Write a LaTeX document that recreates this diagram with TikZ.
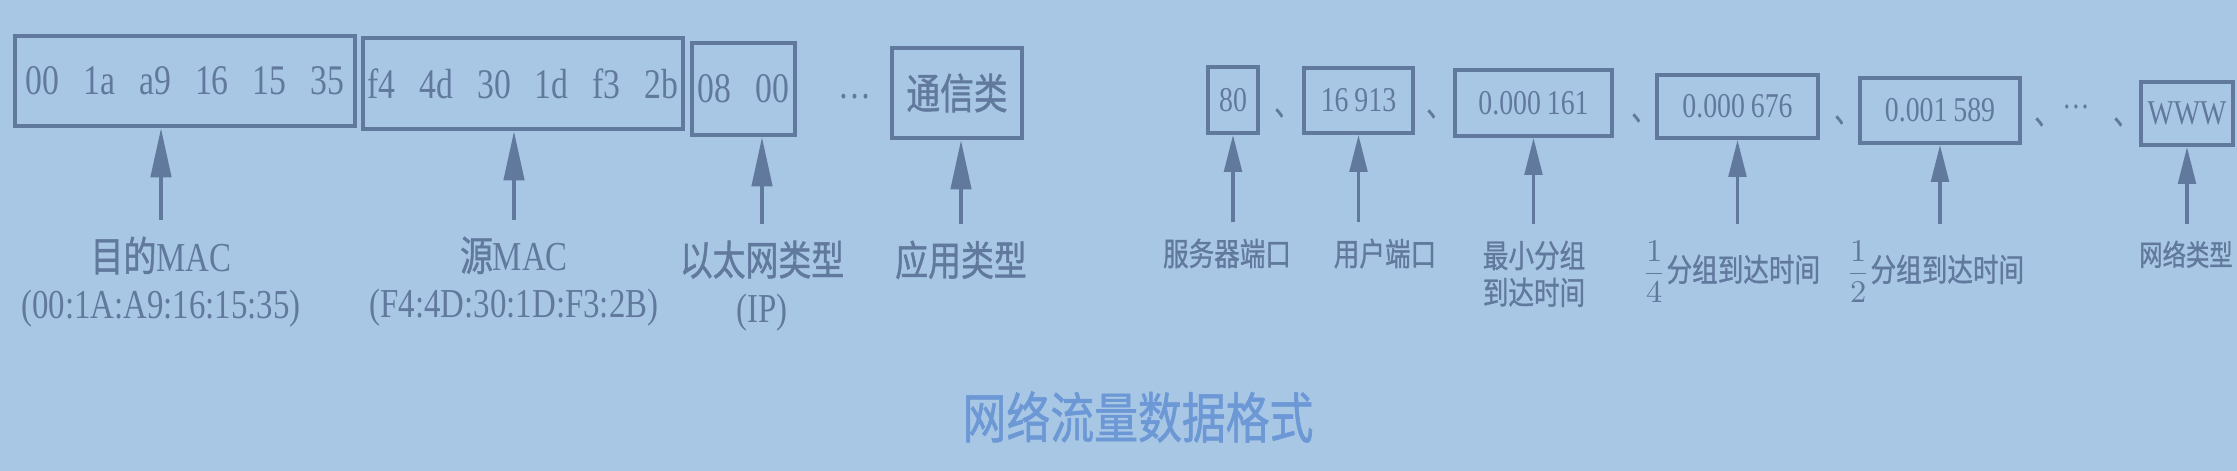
\documentclass[tikz,border=0pt]{standalone}
\usepackage{amsmath}
\usepackage{fontspec}
\usepackage{xcolor}
\usepackage{tikz}
\usetikzlibrary{arrows.meta}

\setmainfont[FakeStretch=0.8]{Liberation Serif}
\newfontfamily\cjk[FakeStretch=0.8, FakeBold=1]{Noto Sans CJK SC}

\definecolor{bgblue}{RGB}{168,199,229}
\definecolor{ink}{RGB}{98,121,158}
\definecolor{titleblue}{RGB}{108,152,214}

\newcommand\bgap{\hspace{2.4mm}}

\begin{document}
\begin{tikzpicture}[
    x=0.1mm, y=-0.1mm,
    box/.style={draw=ink, line width=1.3pt, inner sep=0pt, minimum height=9mm,
                text=ink, font=\fontsize{12}{14}\selectfont},
    rbox/.style={draw=ink, line width=1.1pt, inner sep=0pt, minimum height=6.5mm,
                 text=ink, font=\fontsize{9.9}{12}\selectfont},
    lbl/.style={anchor=north, align=center, inner sep=0pt, text=ink,
                font=\fontsize{11.7}{13.4}\selectfont},
    rlbl/.style={anchor=north, align=center, inner sep=0pt, text=ink,
                 font=\cjk\fontsize{9.1}{10.5}\selectfont},
    sep/.style={inner sep=0pt, text=ink, font=\cjk\fontsize{9}{10}\selectfont},
    arr/.style={draw=ink, line width=1pt, shorten <=4.5pt,
                -{Triangle[length=14pt, width=5.8pt]}},
    rarr/.style={arr, -{Triangle[length=10.5pt, width=5pt]}}]
  \useasboundingbox (0,0) rectangle (2237,471);
  \fill[bgblue] (0,0) rectangle (2237,471);

  \node[box, minimum width=34mm] (dmac) at (185,81) {00\bgap 1a\bgap a9\bgap 16\bgap 15\bgap 35};
  \node[box, minimum width=32mm, minimum height=9.1mm] (smac) at (523,83.5) {f4\bgap 4d\bgap 30\bgap 1d\bgap f3\bgap 2b};
  \node[box, minimum width=10.3mm, minimum height=9.2mm] (eth) at (743.5,89) {08\bgap 00};
  \node[inner sep=0pt, text=ink, font=\fontsize{11.7}{14}\selectfont] (dots1) at (855,97) {\dots};
  \node[box, minimum width=13mm] (app) at (957,93) {{\cjk 通信类}};

  \node[lbl] (ldmac) at (161,236) {{\cjk 目的}MAC\\(00:1A:A9:16:15:35)};
  \node[lbl] (lsmac) at (514,236) {{\cjk 源}MAC\\(F4:4D:30:1D:F3:2B)};
  \node[lbl] (leth) at (762,240) {{\cjk 以太网类型}\\(IP)};
  \node[lbl] (lapp) at (961,240) {{\cjk 应用类型}};

  \draw[arr] (ldmac.north) -- (ldmac.north |- dmac.south);
  \draw[arr] (lsmac.north) -- (lsmac.north |- smac.south);
  \draw[arr] (leth.north) -- (leth.north |- eth.south);
  \draw[arr] (lapp.north) -- (lapp.north |- app.south);

  \node[rbox, minimum width=5mm, minimum height=6.6mm] (srv) at (1233,100) {80};
  \node[sep] (s1) at (1287,113) {、};
  \node[rbox, minimum width=10.9mm] (usr) at (1358.5,100.5) {16\,913};
  \node[sep] (s2) at (1439,114) {、};
  \node[rbox, minimum width=15.7mm, minimum height=6.6mm] (tmin) at (1533.5,103) {0.000\,161};
  \node[sep] (s3) at (1644,118) {、};
  \node[rbox, minimum width=16.1mm, minimum height=6.3mm] (tq) at (1737.5,106.5) {0.000\,676};
  \node[sep] (s4) at (1847,120) {、};
  \node[rbox, minimum width=16mm] (th) at (1940,110.5) {0.001\,589};
  \node[sep] (s5) at (2047,122) {、};
  \node[inner sep=0pt, text=ink, font=\fontsize{9.7}{12}\selectfont] (dots2) at (2076,107) {\dots};
  \node[sep] (s6) at (2126,122) {、};
  \node[rbox, minimum width=9.2mm, minimum height=6.3mm] (net) at (2187,113.5) {WWW};

  \node[rlbl] (lsrv) at (1227,238) {服务器端口};
  \node[rlbl] (lusr) at (1385,238) {用户端口};
  \node[rlbl] (ltmin) at (1534,240) {最小分组\\到达时间};
  \node[rlbl] (ltq) at (1731,240) {$\dfrac{1}{4}$分组到达时间};
  \node[rlbl] (lth) at (1935,240) {$\dfrac{1}{2}$分组到达时间};
  \node[rlbl, font=\cjk\fontsize{8.3}{10}\selectfont] (lnet) at (2186,240) {网络类型};

  \draw[rarr] (srv.south |- lsrv.north) -- (srv.south);
  \draw[rarr] (usr.south |- lusr.north) -- (usr.south);
  \draw[rarr] (tmin.south |- ltmin.north) -- (tmin.south);
  \draw[rarr] (tq.south |- ltq.north) -- (tq.south);
  \draw[rarr] (th.south |- lth.north) -- (th.south);
  \draw[rarr] (net.south |- lnet.north) -- (net.south);

  \node[text=titleblue, font=\cjk\fontsize{15.6}{18}\selectfont] (title) at (1138,417) {网络流量数据格式};
\end{tikzpicture}
\end{document}
